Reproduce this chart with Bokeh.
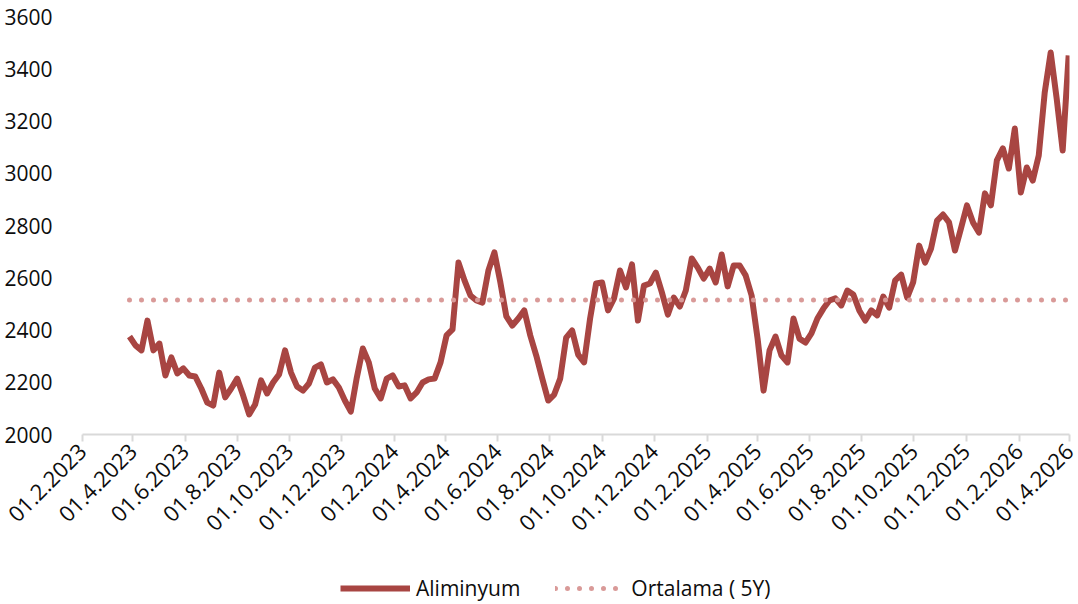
import math
import pandas as pd
from bokeh.plotting import figure
from bokeh.layouts import column
from bokeh.models import Range1d, FixedTicker, Legend, LegendItem
from bokeh.embed import file_html
from bokeh.resources import INLINE

# ---- data (weekly readings, USD/ton) ----
series_start = "2023-03-28"
aluminium = [
    2375, 2341, 2322, 2436, 2322, 2348, 2226, 2295, 2234, 2253,
    2226, 2222, 2176, 2122, 2111, 2237, 2142, 2176, 2214, 2149,
    2077, 2115, 2207, 2157, 2199, 2230, 2322, 2237, 2184, 2168,
    2195, 2256, 2268, 2199, 2211, 2180, 2130, 2088, 2218, 2329,
    2276, 2176, 2138, 2214, 2226, 2184, 2188, 2138, 2161, 2199,
    2211, 2214, 2276, 2379, 2402, 2658, 2590, 2532, 2513, 2505,
    2628, 2697, 2582, 2452, 2417, 2444, 2475, 2379, 2302, 2214,
    2130, 2153, 2214, 2371, 2398, 2306, 2276, 2444, 2578, 2582,
    2475, 2521, 2628, 2563, 2651, 2436, 2570, 2578, 2620, 2544,
    2459, 2524, 2490, 2551, 2674, 2639, 2597, 2635, 2582, 2689,
    2567, 2647, 2647, 2609, 2532, 2367, 2168, 2322, 2375, 2302,
    2276, 2444, 2367, 2352, 2387, 2444, 2482, 2513, 2521, 2494,
    2551, 2536, 2475, 2436, 2475, 2456, 2528, 2486, 2590, 2612,
    2524, 2582, 2723, 2658, 2712, 2819, 2842, 2812, 2704, 2789,
    2877, 2812, 2773, 2923, 2877, 3049, 3095, 3018, 3171, 2926,
    3022, 2972, 3068, 3309, 3462, 3286, 3087, 3451,
]
avg_5y = 2515

tick_labels = [
    "01.2.2023", "01.4.2023", "01.6.2023", "01.8.2023", "01.10.2023",
    "01.12.2023", "01.2.2024", "01.4.2024", "01.6.2024", "01.8.2024",
    "01.10.2024", "01.12.2024", "01.2.2025", "01.4.2025", "01.6.2025",
    "01.8.2025", "01.10.2025", "01.12.2025", "01.2.2026", "01.4.2026",
]
series_names = ["Aliminyum", "Ortalama ( 5Y)"]

dates = pd.date_range(series_start, periods=len(aluminium), freq="7D")
tick_dates = pd.to_datetime(tick_labels, format="%d.%m.%Y")
tick_ms = [float(d.value // 10**6) for d in tick_dates]

FONT = "Open Sans"
TXT = "#0d0d0d"
LINE_C = "#a84542"
AVG_C = "#d99a98"
LINE_W = 6
AVG_STYLE = dict(line_color=AVG_C, line_width=5, line_dash="0 12", line_cap="round")

p = figure(width=1078, height=564, x_axis_type="datetime",
           x_range=Range1d(tick_ms[0], tick_ms[-1]),
           y_range=Range1d(2000, 3600),
           output_backend="svg", toolbar_location=None,
           min_border_left=82, min_border_right=9,
           min_border_top=16, min_border_bottom=130)

p.line(dates, aluminium, line_color=LINE_C, line_width=LINE_W, line_join="round")
p.line([dates[0], dates[-1]], [avg_5y, avg_5y], **AVG_STYLE)

p.outline_line_color = None
p.xgrid.grid_line_color = None
p.ygrid.grid_line_color = None

ya = p.yaxis[0]
ya.ticker = FixedTicker(ticks=list(range(2000, 3601, 200)), minor_ticks=[])
ya.axis_line_color = None
ya.major_tick_line_color = None
ya.minor_tick_line_color = None
ya.major_label_standoff = 24
ya.major_label_text_font = FONT
ya.major_label_text_font_size = "21px"
ya.major_label_text_color = TXT

xa = p.xaxis[0]
xa.ticker = FixedTicker(ticks=tick_ms, minor_ticks=[])
xa.major_label_overrides = {t: l for t, l in zip(tick_ms, tick_labels)}
xa.major_label_orientation = math.pi / 4
xa.axis_line_color = "#d9d9d9"
xa.axis_line_width = 2
xa.major_tick_line_color = "#d9d9d9"
xa.major_tick_line_width = 2
xa.major_tick_out = 7
xa.major_tick_in = 0
xa.minor_tick_line_color = None
xa.major_label_standoff = 6
xa.major_label_text_font = FONT
xa.major_label_text_font_size = "22px"
xa.major_label_text_color = TXT

# ---- legend strip below the chart ----
lf = figure(width=1078, height=40, x_range=Range1d(0, 1), y_range=Range1d(0, 1),
            output_backend="svg", toolbar_location=None, min_border=0)
lf.axis.visible = False
lf.grid.visible = False
lf.outline_line_color = None
# sample glyphs for the legend keys (kept outside the visible range)
k1 = lf.line([5, 6], [5, 5], line_color=LINE_C, line_width=LINE_W)
k2 = lf.line([5, 6], [5, 5], **AVG_STYLE)
legend = Legend(items=[LegendItem(label=series_names[0], renderers=[k1]),
                       LegendItem(label=series_names[1], renderers=[k2])],
                location=(258, 2), orientation="horizontal")
legend.border_line_color = None
legend.background_fill_alpha = 0
legend.padding = 0
legend.margin = 0
legend.spacing = 35
legend.glyph_width = 70
legend.glyph_height = 20
legend.label_height = 20
legend.label_standoff = 6
legend.label_text_font = FONT
legend.label_text_font_size = "21px"
legend.label_text_color = TXT
lf.add_layout(legend)

open("out.html", "w").write(file_html(column(p, lf, spacing=0), INLINE))
